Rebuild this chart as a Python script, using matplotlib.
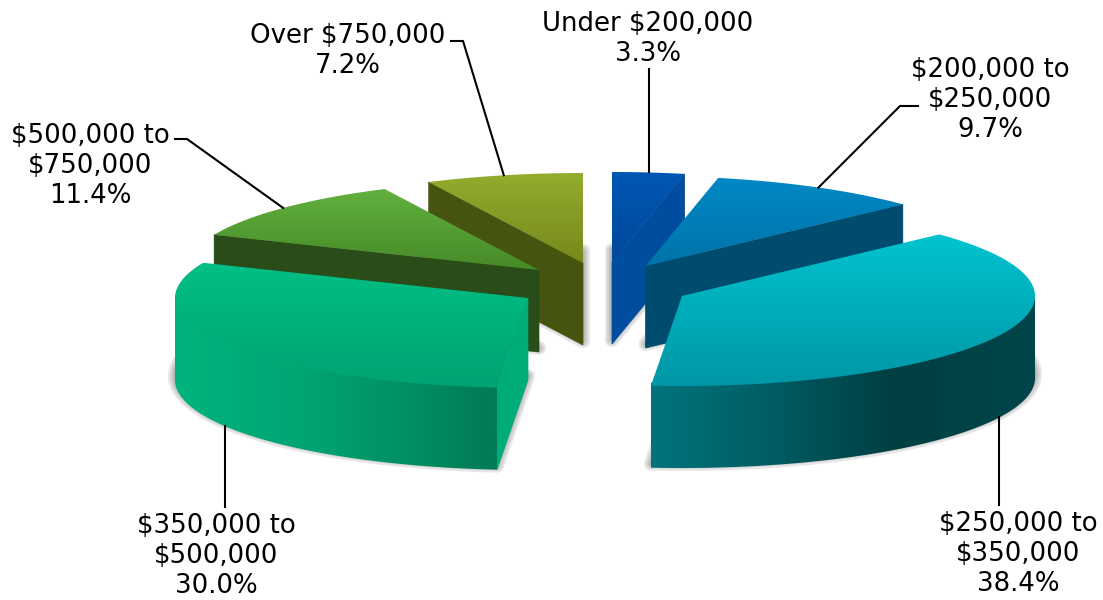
import numpy as np
import matplotlib
matplotlib.use('Agg')
import matplotlib.pyplot as plt
from matplotlib.patches import Polygon

labels = ['Under $200,000', '$200,000 to\n$250,000', '$250,000 to\n$350,000',
          '$350,000 to\n$500,000', '$500,000 to\n$750,000', 'Over $750,000']
shares = [3.3, 9.7, 38.4, 30.0, 11.4, 7.2]

# pie geometry in pixels
RX = 353
RY = 90
DEPTH = 82
apex = [(612, 262), (645.5, 266), (682, 296), (528, 298), (539, 270), (583, 263)]
draw_order = [0, 5, 1, 4, 2, 3]

# top face gradient (top, bottom), cut face colour
top_colors = [('#0057b4', '#00489a'), ('#0089c6', '#0073a8'), ('#00c4cf', '#0096a6'),
              ('#00bf85', '#00a272'), ('#62b03e', '#468a28'), ('#93ad2e', '#76881a')]
cut_colors = ['#004d9f', '#004c6e', '#004c6e', '#00ac78', '#2a4c18', '#45540f']

# outer wall colours along x, only the two front slices have a visible wall
wall_stops = {
    2: ([650, 760, 890, 1034], ['#00747c', '#005f66', '#003f42', '#00454a']),
    3: ([174, 300, 400, 497], ['#00b47e', '#00a574', '#009164', '#007a55']),
}

# text centre and the start of each leader, one point means a straight drop
label_pos = [(648, 39), (990, 100), (1018, 554), (216, 556), (90, 166), (348, 51)]
leader_start = [[69], [(918, 106), (900, 106)], [505], [507],
                [(175, 139), (187, 139)], [(451, 41), (463, 41)]]


def rgb(color):
    return np.array(matplotlib.colors.to_rgb(color))


def rim(cx, cy, theta):
    # clockwise from 12 o'clock, y axis points down
    return np.column_stack([cx + RX * np.sin(theta), cy - RY * np.cos(theta)])


def gradient_fill(ax, pts, values, colors, vertical=True, zorder=2):
    pts = np.asarray(pts)
    patch = Polygon(pts, closed=True, transform=ax.transData)
    x0, x1 = pts[:, 0].min(), pts[:, 0].max()
    y0, y1 = pts[:, 1].min(), pts[:, 1].max()
    t = np.linspace(y0, y1, 256) if vertical else np.linspace(x0, x1, 512)
    chans = [np.interp(t, values, [rgb(c)[i] for c in colors]) for i in range(3)]
    grad = np.stack(chans, axis=-1)
    grad = grad[:, None, :] if vertical else grad[None, :, :]
    im = ax.imshow(grad, extent=(x0, x1, y1, y0), origin='upper', aspect='auto',
                   interpolation='bilinear', zorder=zorder)
    im.set_clip_path(patch)


fig = plt.figure(figsize=(11.03, 6), dpi=100)
ax = fig.add_axes([0, 0, 1, 1])

fractions = np.array(shares) / sum(shares)
ends = np.cumsum(fractions) * 2 * np.pi
starts = ends - fractions * 2 * np.pi

z = 2
for i in draw_order:
    cx, cy = apex[i]
    t0, t1 = starts[i], ends[i]
    arc = rim(cx, cy, np.linspace(t0, t1, 200))
    top = np.vstack([[cx, cy], arc])

    # soft shadow around the base of the slice, pulled up so it shows mostly at the sides
    base = top + [0, DEPTH - 4]
    for lw in [10, 7, 4, 2]:
        ax.add_patch(Polygon(base, closed=True, facecolor='#707070', edgecolor='#707070',
                             alpha=0.17, lw=lw, joinstyle='round', zorder=z))
    z += 1

    # cut face on the radial edge turned to the viewer
    edge = None
    if t1 < np.pi:
        edge = t1
    elif t0 >= np.pi:
        edge = t0
    if edge is not None:
        p = rim(cx, cy, np.array([edge]))[0]
        face = [[cx, cy], p, p + [0, DEPTH], [cx, cy + DEPTH]]
        ax.add_patch(Polygon(face, closed=True, facecolor=cut_colors[i], edgecolor=cut_colors[i],
                             lw=0.5, zorder=z))
        z += 1

    # outer wall for the part of the rim on the front half, runs a little under the top face
    if i in wall_stops:
        a = max(t0, np.pi / 2)
        b = min(t1, 3 * np.pi / 2)
        front = rim(cx, cy, np.linspace(a, b, 200))
        wall = np.vstack([front - [0, 3], (front + [0, DEPTH])[::-1]])
        gradient_fill(ax, wall, wall_stops[i][0], wall_stops[i][1], vertical=False, zorder=z)
        z += 1

    gradient_fill(ax, top, [top[:, 1].min(), top[:, 1].max()], top_colors[i], zorder=z)
    z += 1

# leaders run to the rim at the middle of each slice, labels go on top
mids = (starts + ends) / 2
for i, start in enumerate(leader_start):
    end = rim(apex[i][0], apex[i][1], np.array([mids[i]]))[0]
    if np.cos(mids[i]) < 0:
        end = end + [0, DEPTH]
    if len(start) == 1:
        start = [(end[0], start[0])]
    xs = [p[0] for p in start] + [end[0]]
    ys = [p[1] for p in start] + [end[1]]
    ax.plot(xs, ys, color='black', lw=1.5, solid_joinstyle='miter', zorder=z)
    x, y = label_pos[i]
    ax.text(x, y, labels[i] + '\n%.1f%%' % shares[i], ha='center', va='center',
            fontsize=18.7, color='black', linespacing=1.22, zorder=z + 1)

ax.set_xlim(0, 1103)
ax.set_ylim(600, 0)
ax.axis('off')
fig.savefig('out.png', dpi=100)
